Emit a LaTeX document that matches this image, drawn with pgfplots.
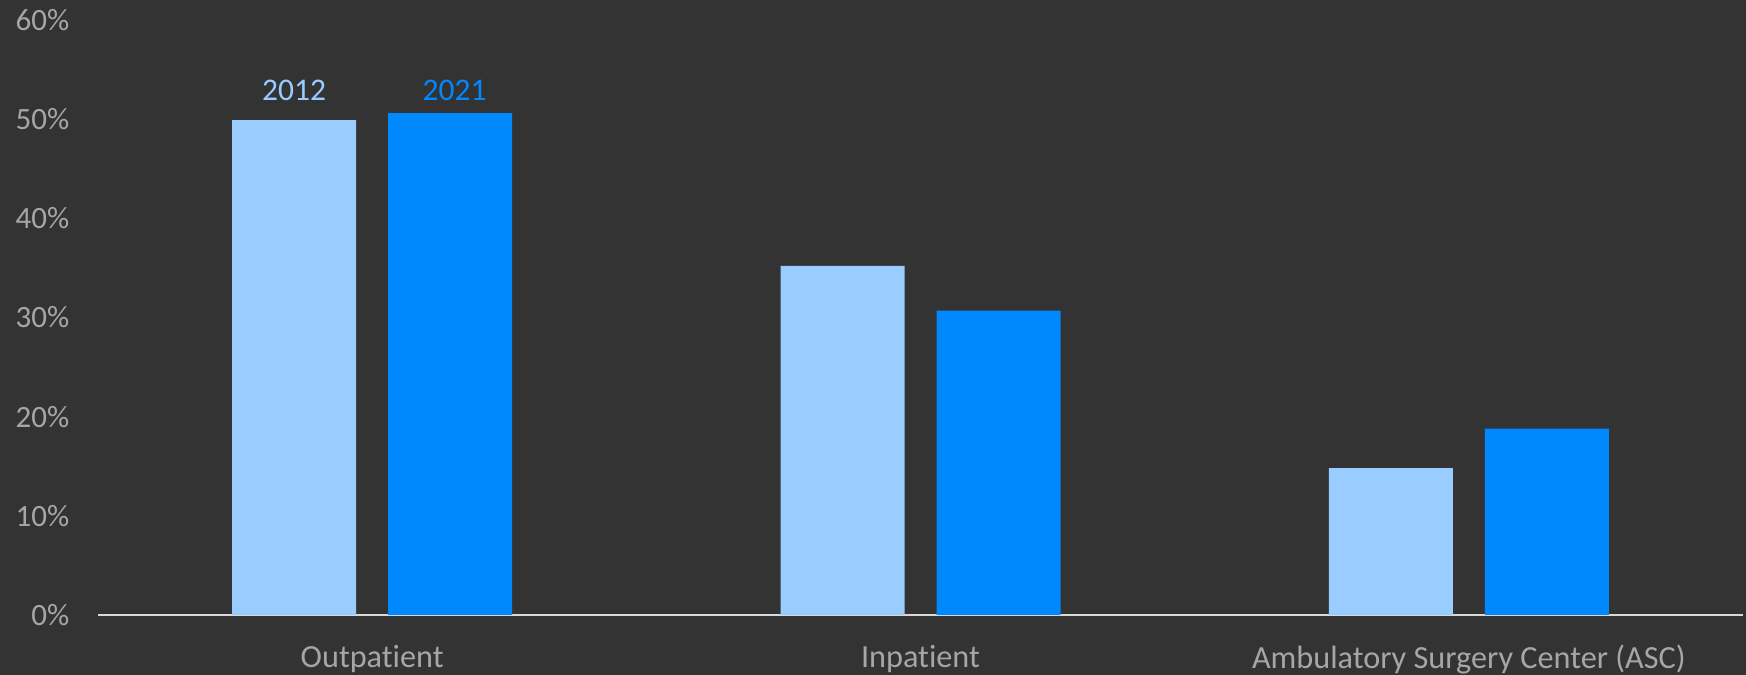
\documentclass[border=0pt]{standalone}
\usepackage{fontspec}
\setmainfont{Carlito}[Ligatures={NoCommon}]
\usepackage{pgfplots}
\pgfplotsset{compat=1.18}

\definecolor{bgdark}{HTML}{333333}
\definecolor{axisgray}{HTML}{D9D9D9}
\definecolor{labelgray}{HTML}{A6A6A6}
\definecolor{lightblue}{HTML}{99CCFF}
\definecolor{brightblue}{HTML}{0088FF}

\begin{document}
\begin{tikzpicture}
\fill[bgdark] (-39.2pt,-24pt) rectangle (659.2pt,246pt);
\useasboundingbox (-39.2pt,-24pt) rectangle (659.2pt,246pt);
\begin{axis}[
scale only axis,
width=658pt, height=238pt,
xmin=-0.5, xmax=2.5,
ymin=0, ymax=60,
ytick={0,10,20,30,40,50,60},
yticklabel={\pgfmathprintnumber{\tick}\%},
xtick={0,1,2},
xticklabels={Outpatient,Inpatient,Ambulatory Surgery Center (ASC)},
axis x line*=bottom,
axis y line*=left,
y axis line style={draw=none},
x axis line style={axisgray, line width=1pt},
major tick length=0pt,
tick style={draw=none},
ticklabel style={text=labelgray},
yticklabel style={font=\fontsize{12.4}{14}\selectfont, anchor=east, xshift=-8pt, /pgf/number format/assume math mode=true},
xticklabel style={font=\fontsize{12.9}{15}\selectfont, anchor=north, yshift=-8.5pt},
ybar, bar width=49.6pt,
]
\addplot[draw=none, fill=lightblue, bar shift=-31.2pt] coordinates {
(0,49.9) (1,35.2) (2,14.8)
};
\addplot[draw=none, fill=brightblue, bar shift=31.2pt] coordinates {
(0,50.6) (1,30.7) (2,18.8)
};
\node[anchor=base, text=lightblue, font=\fontsize{12.6}{14}\selectfont, xshift=-31.2pt] at (axis cs:0,51.9) {2012};
\node[anchor=base, text=brightblue, font=\fontsize{12.6}{14}\selectfont, xshift=33pt] at (axis cs:0,51.9) {2021};
\end{axis}
\end{tikzpicture}
\end{document}
